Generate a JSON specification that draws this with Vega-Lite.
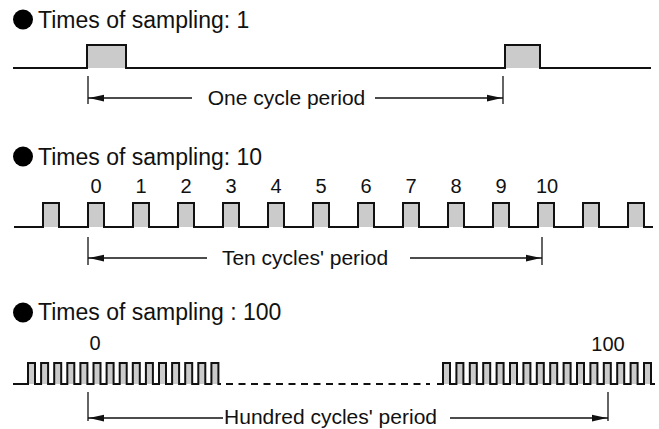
{
  "$schema": "https://vega.github.io/schema/vega-lite/v6.json",
  "width": 659,
  "height": 429,
  "padding": 0,
  "autosize": {"type": "fit", "contains": "padding"},
  "background": "white",
  "config": {"view": {"stroke": null}},
  "datasets": {
    "wave": [
      {"seg": "p1", "t": 13, "v": 68, "base": 68},
      {"seg": "p1", "t": 87, "v": 45, "base": 68},
      {"seg": "p1", "t": 126, "v": 68, "base": 68},
      {"seg": "p1", "t": 505, "v": 45, "base": 68},
      {"seg": "p1", "t": 540, "v": 68, "base": 68},
      {"seg": "p1", "t": 651, "v": 68, "base": 68},

      {"seg": "p2", "t": 14, "v": 227, "base": 227},
      {"seg": "p2", "t": 43, "v": 203, "base": 227},
      {"seg": "p2", "t": 59, "v": 227, "base": 227},
      {"seg": "p2", "t": 88, "v": 203, "base": 227},
      {"seg": "p2", "t": 104, "v": 227, "base": 227},
      {"seg": "p2", "t": 133, "v": 203, "base": 227},
      {"seg": "p2", "t": 149, "v": 227, "base": 227},
      {"seg": "p2", "t": 178, "v": 203, "base": 227},
      {"seg": "p2", "t": 194, "v": 227, "base": 227},
      {"seg": "p2", "t": 223, "v": 203, "base": 227},
      {"seg": "p2", "t": 239, "v": 227, "base": 227},
      {"seg": "p2", "t": 268, "v": 203, "base": 227},
      {"seg": "p2", "t": 284, "v": 227, "base": 227},
      {"seg": "p2", "t": 313, "v": 203, "base": 227},
      {"seg": "p2", "t": 329, "v": 227, "base": 227},
      {"seg": "p2", "t": 358, "v": 203, "base": 227},
      {"seg": "p2", "t": 374, "v": 227, "base": 227},
      {"seg": "p2", "t": 403, "v": 203, "base": 227},
      {"seg": "p2", "t": 419, "v": 227, "base": 227},
      {"seg": "p2", "t": 448, "v": 203, "base": 227},
      {"seg": "p2", "t": 464, "v": 227, "base": 227},
      {"seg": "p2", "t": 493, "v": 203, "base": 227},
      {"seg": "p2", "t": 509, "v": 227, "base": 227},
      {"seg": "p2", "t": 538, "v": 203, "base": 227},
      {"seg": "p2", "t": 554, "v": 227, "base": 227},
      {"seg": "p2", "t": 583, "v": 203, "base": 227},
      {"seg": "p2", "t": 599, "v": 227, "base": 227},
      {"seg": "p2", "t": 628, "v": 203, "base": 227},
      {"seg": "p2", "t": 644, "v": 227, "base": 227},
      {"seg": "p2", "t": 653, "v": 227, "base": 227},

      {"seg": "p3a", "t": 13, "v": 384, "base": 384},
      {"seg": "p3a", "t": 28, "v": 363, "base": 384},
      {"seg": "p3a", "t": 35, "v": 384, "base": 384},
      {"seg": "p3a", "t": 41.1, "v": 363, "base": 384},
      {"seg": "p3a", "t": 48.1, "v": 384, "base": 384},
      {"seg": "p3a", "t": 54.2, "v": 363, "base": 384},
      {"seg": "p3a", "t": 61.2, "v": 384, "base": 384},
      {"seg": "p3a", "t": 67.3, "v": 363, "base": 384},
      {"seg": "p3a", "t": 74.3, "v": 384, "base": 384},
      {"seg": "p3a", "t": 80.4, "v": 363, "base": 384},
      {"seg": "p3a", "t": 87.4, "v": 384, "base": 384},
      {"seg": "p3a", "t": 93.5, "v": 363, "base": 384},
      {"seg": "p3a", "t": 100.5, "v": 384, "base": 384},
      {"seg": "p3a", "t": 106.6, "v": 363, "base": 384},
      {"seg": "p3a", "t": 113.6, "v": 384, "base": 384},
      {"seg": "p3a", "t": 119.7, "v": 363, "base": 384},
      {"seg": "p3a", "t": 126.7, "v": 384, "base": 384},
      {"seg": "p3a", "t": 132.8, "v": 363, "base": 384},
      {"seg": "p3a", "t": 139.8, "v": 384, "base": 384},
      {"seg": "p3a", "t": 145.9, "v": 363, "base": 384},
      {"seg": "p3a", "t": 152.9, "v": 384, "base": 384},
      {"seg": "p3a", "t": 159, "v": 363, "base": 384},
      {"seg": "p3a", "t": 166, "v": 384, "base": 384},
      {"seg": "p3a", "t": 172.1, "v": 363, "base": 384},
      {"seg": "p3a", "t": 179.1, "v": 384, "base": 384},
      {"seg": "p3a", "t": 185.2, "v": 363, "base": 384},
      {"seg": "p3a", "t": 192.2, "v": 384, "base": 384},
      {"seg": "p3a", "t": 198.3, "v": 363, "base": 384},
      {"seg": "p3a", "t": 205.3, "v": 384, "base": 384},
      {"seg": "p3a", "t": 211.4, "v": 363, "base": 384},
      {"seg": "p3a", "t": 218.4, "v": 384, "base": 384},
      {"seg": "p3a", "t": 221, "v": 384, "base": 384},

      {"seg": "p3b", "t": 437, "v": 384, "base": 384},
      {"seg": "p3b", "t": 443, "v": 363, "base": 384},
      {"seg": "p3b", "t": 450, "v": 384, "base": 384},
      {"seg": "p3b", "t": 456.4, "v": 363, "base": 384},
      {"seg": "p3b", "t": 463.4, "v": 384, "base": 384},
      {"seg": "p3b", "t": 469.8, "v": 363, "base": 384},
      {"seg": "p3b", "t": 476.8, "v": 384, "base": 384},
      {"seg": "p3b", "t": 483.2, "v": 363, "base": 384},
      {"seg": "p3b", "t": 490.2, "v": 384, "base": 384},
      {"seg": "p3b", "t": 496.6, "v": 363, "base": 384},
      {"seg": "p3b", "t": 503.6, "v": 384, "base": 384},
      {"seg": "p3b", "t": 510, "v": 363, "base": 384},
      {"seg": "p3b", "t": 517, "v": 384, "base": 384},
      {"seg": "p3b", "t": 523.4, "v": 363, "base": 384},
      {"seg": "p3b", "t": 530.4, "v": 384, "base": 384},
      {"seg": "p3b", "t": 536.8, "v": 363, "base": 384},
      {"seg": "p3b", "t": 543.8, "v": 384, "base": 384},
      {"seg": "p3b", "t": 550.2, "v": 363, "base": 384},
      {"seg": "p3b", "t": 557.2, "v": 384, "base": 384},
      {"seg": "p3b", "t": 563.6, "v": 363, "base": 384},
      {"seg": "p3b", "t": 570.6, "v": 384, "base": 384},
      {"seg": "p3b", "t": 577, "v": 363, "base": 384},
      {"seg": "p3b", "t": 584, "v": 384, "base": 384},
      {"seg": "p3b", "t": 590.4, "v": 363, "base": 384},
      {"seg": "p3b", "t": 597.4, "v": 384, "base": 384},
      {"seg": "p3b", "t": 603.8, "v": 363, "base": 384},
      {"seg": "p3b", "t": 610.8, "v": 384, "base": 384},
      {"seg": "p3b", "t": 617.2, "v": 363, "base": 384},
      {"seg": "p3b", "t": 624.2, "v": 384, "base": 384},
      {"seg": "p3b", "t": 630.6, "v": 363, "base": 384},
      {"seg": "p3b", "t": 637.6, "v": 384, "base": 384},
      {"seg": "p3b", "t": 644, "v": 363, "base": 384},
      {"seg": "p3b", "t": 651, "v": 384, "base": 384},
      {"seg": "p3b", "t": 655, "v": 384, "base": 384}
    ],
    "dash": [
      {"t": 226, "t2": 430, "v": 384}
    ],
    "rules": [
      {"t": 88, "t2": 88, "v": 76, "v2": 104},
      {"t": 503, "t2": 503, "v": 76, "v2": 104},
      {"t": 88, "t2": 192, "v": 98, "v2": 98},
      {"t": 375, "t2": 503, "v": 98, "v2": 98},
      {"t": 88, "t2": 88, "v": 237, "v2": 265},
      {"t": 542, "t2": 542, "v": 237, "v2": 265},
      {"t": 88, "t2": 207, "v": 258, "v2": 258},
      {"t": 410, "t2": 542, "v": 258, "v2": 258},
      {"t": 88, "t2": 88, "v": 392, "v2": 421},
      {"t": 608, "t2": 608, "v": 392, "v2": 421},
      {"t": 88, "t2": 223, "v": 418, "v2": 418},
      {"t": 450, "t2": 608, "v": 418, "v2": 418}
    ],
    "heads": [
      {"t": 89, "v": 98, "dir": "left"},
      {"t": 502, "v": 98, "dir": "right"},
      {"t": 89, "v": 258, "dir": "left"},
      {"t": 541, "v": 258, "dir": "right"},
      {"t": 89, "v": 418, "dir": "left"},
      {"t": 607, "v": 418, "dir": "right"}
    ],
    "bullets": [
      {"t": 23, "v": 19.5},
      {"t": 23, "v": 156.5},
      {"t": 23, "v": 312.5}
    ],
    "titles": [
      {"t": 38, "v": 28, "label": "Times of sampling: 1"},
      {"t": 38, "v": 165, "label": "Times of sampling: 10"},
      {"t": 38, "v": 320, "label": "Times of sampling : 100"}
    ],
    "labels": [
      {"t": 286.5, "v": 105, "label": "One cycle period"},
      {"t": 305, "v": 265, "label": "Ten cycles' period"},
      {"t": 330.5, "v": 424, "label": "Hundred cycles' period"}
    ],
    "digits": [
      {"t": 96, "v": 193, "label": "0"},
      {"t": 141, "v": 193, "label": "1"},
      {"t": 186, "v": 193, "label": "2"},
      {"t": 231, "v": 193, "label": "3"},
      {"t": 276, "v": 193, "label": "4"},
      {"t": 321, "v": 193, "label": "5"},
      {"t": 366, "v": 193, "label": "6"},
      {"t": 411, "v": 193, "label": "7"},
      {"t": 456, "v": 193, "label": "8"},
      {"t": 501, "v": 193, "label": "9"},
      {"t": 547, "v": 193, "label": "10"},
      {"t": 95, "v": 350, "label": "0"},
      {"t": 608, "v": 351, "label": "100"}
    ]
  },
  "encoding": {
    "x": {"field": "t", "type": "quantitative", "scale": {"domain": [0, 659], "nice": false, "zero": false}, "axis": null},
    "y": {"field": "v", "type": "quantitative", "scale": {"domain": [0, 429], "nice": false, "zero": false, "reverse": true}, "axis": null}
  },
  "layer": [
    {
      "data": {"name": "wave"},
      "mark": {"type": "area", "interpolate": "step-after", "color": "#cbcbcb", "opacity": 1},
      "encoding": {"y2": {"field": "base"}, "detail": {"field": "seg"}}
    },
    {
      "data": {"name": "wave"},
      "mark": {"type": "line", "interpolate": "step-after", "color": "#111111", "strokeWidth": 2},
      "encoding": {"detail": {"field": "seg"}}
    },
    {
      "data": {"name": "dash"},
      "mark": {"type": "rule", "color": "#111111", "strokeWidth": 1.8, "strokeDash": [7, 5.5]},
      "encoding": {"x2": {"field": "t2"}}
    },
    {
      "data": {"name": "rules"},
      "mark": {"type": "rule", "color": "#111111", "strokeWidth": 1.3},
      "encoding": {"x2": {"field": "t2"}, "y2": {"field": "v2"}}
    },
    {
      "data": {"name": "heads"},
      "mark": {"type": "point", "filled": true, "color": "#111111", "opacity": 1, "size": 225},
      "encoding": {
        "shape": {"field": "dir", "type": "nominal", "legend": null,
          "scale": {"domain": ["left", "right"], "range": ["M0,0L2,-0.45L2,0.45Z", "M0,0L-2,-0.45L-2,0.45Z"]}}
      }
    },
    {
      "data": {"name": "bullets"},
      "mark": {"type": "point", "shape": "circle", "filled": true, "color": "#000000", "opacity": 1, "size": 400}
    },
    {
      "data": {"name": "titles"},
      "mark": {"type": "text", "align": "left", "baseline": "alphabetic", "font": "Liberation Sans", "fontSize": 23, "color": "#111111"},
      "encoding": {"text": {"field": "label"}}
    },
    {
      "data": {"name": "labels"},
      "mark": {"type": "text", "align": "center", "baseline": "alphabetic", "font": "Liberation Sans", "fontSize": 21, "color": "#111111"},
      "encoding": {"text": {"field": "label"}}
    },
    {
      "data": {"name": "digits"},
      "mark": {"type": "text", "align": "center", "baseline": "alphabetic", "font": "Liberation Sans", "fontSize": 20, "color": "#111111"},
      "encoding": {"text": {"field": "label"}}
    }
  ]
}
